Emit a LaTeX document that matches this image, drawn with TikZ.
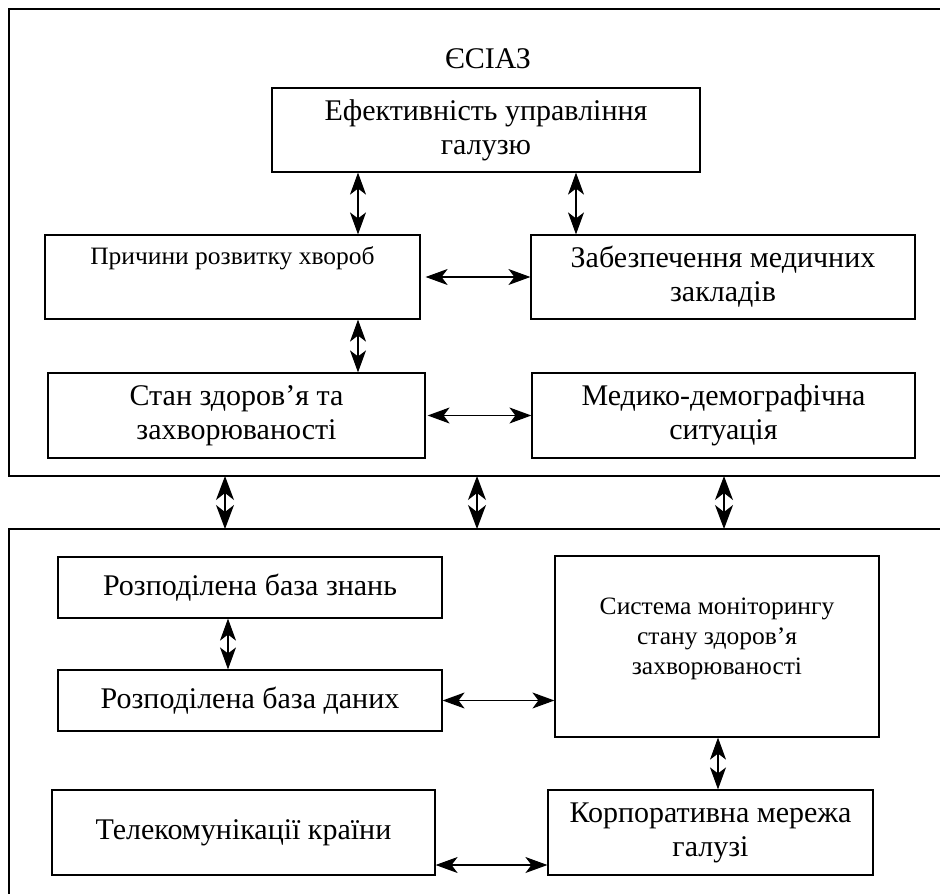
\documentclass[tikz,border=0pt]{standalone}
\usepackage{fontspec}
\setmainfont{Liberation Serif}
\newfontfamily\mainf{Liberation Serif}
\newfontfamily\smallf[FakeStretch=1.02]{Liberation Serif}
\usetikzlibrary{arrows.meta,calc}
\begin{document}
\begin{tikzpicture}[x=1pt,y=-1pt,
  box/.style={draw, line width=1.2pt, rectangle, inner sep=0pt, align=center,
    font=\mainf\fontsize{30}{34}\selectfont},
  smallbox/.style={box, font=\smallf\fontsize{25}{30}\selectfont},
  frame/.style={draw, line width=1.3pt},
  arr/.style={line width=1.1pt, {Stealth[length=22pt,width=16pt,inset=6pt]}-{Stealth[length=22pt,width=16pt,inset=6pt]}},
  bigarr/.style={line width=1.3pt, {Stealth[length=24pt,width=18pt,inset=7pt]}-{Stealth[length=24pt,width=18pt,inset=7pt]}}]
\useasboundingbox (0,0) rectangle (940,894);
\clip (0,0) rectangle (940,894);

% outer frames
\draw[frame] (9,9) rectangle (980,476);
\draw[frame] (9,529) rectangle (980,960);
\coordinate (topframe) at (9,476);
\coordinate (botframe) at (9,529);

\node[font=\mainf\fontsize{30}{34}\selectfont] (title) at (488,59) {ЄСІАЗ};

% top part
\node[box, minimum width=428pt, minimum height=84pt] (ef) at (486,130) {Ефективність управління\\галузю};
\node[smallbox, minimum width=375pt, minimum height=84pt, text depth=42pt] (prich) at (232.5,277) {Причини розвитку хвороб};
\node[box, minimum width=384pt, minimum height=84pt] (zab) at (723,277) {Забезпечення медичних\\закладів};
\node[box, minimum width=377pt, minimum height=85pt] (stan) at (236.5,415.5) {Стан здоров’я та\\захворюваності};
\node[box, minimum width=383pt, minimum height=85pt] (med) at (723.5,415.5) {Медико-демографічна\\ситуація};

% bottom part
\node[box, minimum width=384pt, minimum height=61pt] (znan) at (250,587.5) {Розподілена база знань};
\node[box, minimum width=384pt, minimum height=61pt] (dan) at (250,700.5) {Розподілена база даних};
\node[smallbox, minimum width=324pt, minimum height=181pt, text depth=21pt] (sys) at (717,646.5) {Система моніторингу\\стану здоров’я\\захворюваності};
\node[box, minimum width=383pt, minimum height=85pt] (tel) at (243.5,832.5) {Телекомунікації країни};
\node[box, minimum width=325pt, minimum height=85pt] (korp) at (710.5,832.5) {Корпоративна мережа\\галузі};

% column coordinates
\coordinate (xa) at (358,0);
\coordinate (xb) at (576,0);
\coordinate (xc) at (228,0);
\coordinate (xd) at (718,0);
\coordinate (x1) at (225,0);
\coordinate (x2) at (477,0);
\coordinate (x3) at (724,0);
\coordinate (ytel) at (0,865);

% arrows in top part
\draw[arr] (ef.south -| xa) -- (prich.north -| xa);
\draw[arr] (ef.south -| xb) -- (zab.north -| xb);
\draw[arr, shorten <=5pt] (prich.east) -- (zab.west);
\draw[arr, shorten <=2pt] (stan.east) -- (med.west);
\draw[arr] (prich.south -| xa) -- (stan.north -| xa);

% arrows between frames
\draw[bigarr] (topframe -| x1) -- (botframe -| x1);
\draw[bigarr] (topframe -| x2) -- (botframe -| x2);
\draw[bigarr] (topframe -| x3) -- (botframe -| x3);

% arrows in bottom part
\draw[arr] (znan.south -| xc) -- (dan.north -| xc);
\draw[arr] (dan.east) -- (dan.east -| sys.west);
\draw[arr] (sys.south -| xd) -- (korp.north -| xd);
\draw[arr] (tel.east |- ytel) -- (korp.west |- ytel);
\end{tikzpicture}
\end{document}
